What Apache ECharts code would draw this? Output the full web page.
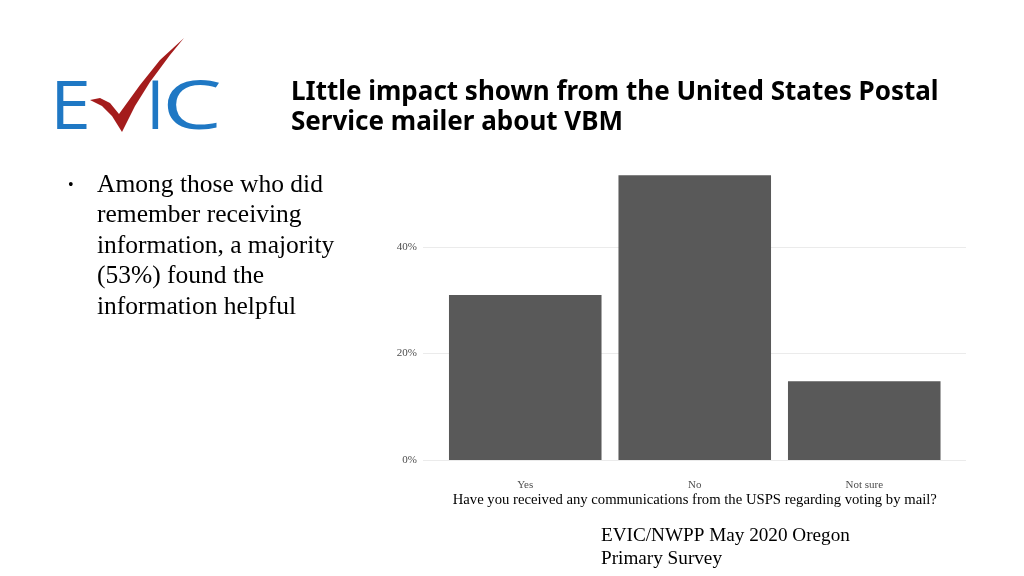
<!DOCTYPE html>
<html><head><meta charset="utf-8">
<script src="https://cdn.jsdelivr.net/npm/echarts@6/dist/echarts.min.js"></script>
<style>html,body{margin:0;padding:0;background:#fff}#c{width:1024px;height:576px}</style>
</head><body><div id="c"></div>
<script>
const categories = ['Yes', 'No', 'Not sure'];
const values = [31.0, 53.5, 14.8];
const yTicks = [0, 20, 40];
const titleText = 'LIttle impact shown from the United States Postal\nService mailer about VBM';
const bulletText = 'Among those who did\nremember receiving\ninformation, a majority\n(53%) found the\ninformation helpful';
const xTitle = 'Have you received any communications from the USPS regarding voting by mail?';
const footer = 'EVIC/NWPP May 2020 Oregon\nPrimary Survey';

const chart = echarts.init(document.getElementById('c'));
const serif = '"Liberation Serif","Times New Roman",serif';
const logoFont = '"Open Sans","Noto Sans",sans-serif';
const yMax = 56;
chart.setOption({
  animation: false,
  backgroundColor: '#fff',
  grid: [
    {left: 423, right: 58, top: 162, bottom: 116},
    {left: 440.5, right: 75, top: 162, bottom: 116}
  ],
  xAxis: [
    {gridIndex: 0, type: 'value', min: 0, max: 1, show: false},
    {gridIndex: 1, type: 'category', data: categories,
     axisLine: {show: false}, axisTick: {show: false},
     axisLabel: {color: '#4d4d4d', fontFamily: serif, fontSize: 11, margin: 20},
     name: xTitle, nameLocation: 'middle', nameGap: 33, nameMoveOverlap: false,
     nameTextStyle: {color: '#000', fontFamily: serif, fontSize: 14.7}}
  ],
  yAxis: [
    {gridIndex: 0, type: 'value', min: 0, max: yMax, interval: 20,
     axisLine: {show: false}, axisTick: {show: false},
     axisLabel: {color: '#4d4d4d', fontFamily: serif, fontSize: 11, margin: 6, showMaxLabel: false,
       formatter: v => yTicks.includes(v) ? v + '%' : ''},
     splitLine: {showMaxLine: false, lineStyle: {color: '#ebebeb', width: 1.2}}},
    {gridIndex: 1, type: 'value', min: 0, max: yMax, interval: 20, show: false}
  ],
  series: [{
    type: 'bar', xAxisIndex: 1, yAxisIndex: 1, data: values,
    barCategoryGap: '10%', itemStyle: {color: '#595959'}
  }],
  graphic: [
    {type: 'text', left: 291, top: 78, style: {text: titleText, fontFamily: '"Noto Sans","Open Sans",sans-serif',
      fontWeight: 'bold', fontSize: 26, lineHeight: 30, fill: '#000'}},
    {type: 'text', left: 68, top: 178, style: {text: '•', fontFamily: serif, fontSize: 16, fill: '#000'}},
    {type: 'text', left: 97, top: 170, style: {text: bulletText, fontFamily: serif, fontSize: 25.5, lineHeight: 30.5, fill: '#000'}},
    {type: 'text', left: 601, top: 524, style: {text: footer, fontFamily: serif, fontSize: 19.2, lineHeight: 23, fill: '#000'}},
    {type: 'text', x: 50, y: 76, scaleX: 1.1, style: {text: 'E', fontFamily: logoFont, fontSize: 67, fill: '#1f78c4'}},
    {type: 'text', x: 146, y: 76, style: {text: 'I', fontFamily: logoFont, fontSize: 67, fill: '#1f78c4'}},
    {type: 'text', x: 162, y: 76, scaleX: 1.42, style: {text: 'C', fontFamily: logoFont, fontSize: 67, fill: '#1f78c4'}},
    {type: 'polygon', shape: {points: [[90,100],[100,98],[110,103],[119,114],[140,85],[160,60],[184,38],[170,55],[150,82],[135,106],[122,132],[112,116],[102,106]]},
      style: {fill: '#a41c1c'}}
  ]
});
</script></body></html>
